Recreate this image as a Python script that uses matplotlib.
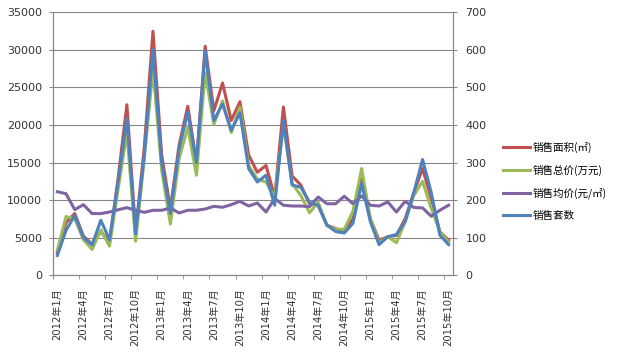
import matplotlib
matplotlib.use("Agg")
import matplotlib.pyplot as plt
from matplotlib.font_manager import FontProperties

plt.rcParams["font.family"] = ["DejaVu Sans", "Noto Sans CJK SC"]

# monthly data, 2012-01 .. 2015-10 (46 months)
area = [3000, 7000, 8200, 5200, 4100, 5800, 4400, 13000, 22700, 5700, 17000, 32500,
        16000, 8850, 17300, 22500, 15000, 30500, 21900, 25600, 20600, 23100, 16000, 13700,
        14600, 10400, 22400, 13200, 12000, 9500, 9300, 6650, 6200, 5750, 7500, 12800,
        7500, 4650, 5100, 5300, 7500, 11000, 14200, 10200, 5750, 4650]
total_price = [3300, 7800, 7500, 4700, 3400, 6000, 3850, 11500, 19000, 4500, 15500, 27500,
               14000, 6800, 15500, 19700, 13300, 27000, 20100, 23200, 19000, 22400, 14600, 12800,
               12400, 10400, 20000, 12200, 10600, 8300, 9700, 6600, 6100, 6100, 8500, 14200,
               7500, 4300, 5100, 4300, 7100, 10600, 12500, 8900, 5750, 4400]
avg_price = [11100, 10840, 8720, 9380, 8190, 8190, 8400, 8700, 8980, 8630, 8360, 8630,
             8630, 8940, 8270, 8630, 8630, 8800, 9160, 9030, 9380, 9820, 9200, 9600,
             8400, 10200, 9300, 9200, 9200, 9100, 10400, 9500, 9500, 10500, 9500, 10540,
             9300, 9200, 9740, 8400, 9830, 9000, 8950, 7840, 8640, 9300]
units = [52, 119, 159, 100, 80, 146, 94, 250, 418, 110, 320, 602,
         300, 164, 336, 434, 300, 598, 412, 456, 386, 432, 284, 248,
         266, 186, 412, 240, 234, 194, 186, 133, 116, 112, 138, 244,
         142, 81, 102, 108, 142, 220, 308, 220, 106, 81]

tick_labels = ["2012年1月", "2012年4月", "2012年7月", "2012年10月",
               "2013年1月", "2013年4月", "2013年7月", "2013年10月",
               "2014年1月", "2014年4月", "2014年7月", "2014年10月",
               "2015年1月", "2015年4月", "2015年7月", "2015年10月"]
series_names = ["销售面积(㎡)", "销售总价(万元)", "销售均价(元/㎡)", "销售套数"]

grid_c = "#868686"
text_c = "#333333"

fig = plt.figure(figsize=(6.3, 3.56), dpi=100)
ax = fig.add_axes([0.0841, 0.2275, 0.6349, 0.7374])
ax2 = ax.twinx()

x = list(range(len(area)))
l1, = ax.plot(x, area, color="#C0504D", lw=2.2, zorder=3)
l2, = ax.plot(x, total_price, color="#9BBB59", lw=2.2, zorder=3)
l3, = ax.plot(x, avg_price, color="#8064A2", lw=2.2, zorder=3)
l4, = ax2.plot(x, units, color="#4F81BD", lw=2.2)

ax.set_xlim(-0.5, len(area) - 0.5)
ax.set_ylim(0, 35000)
ax.set_yticks(range(0, 35001, 5000))
ax2.set_ylim(0, 700)
ax2.set_yticks(range(0, 701, 100))

ax.yaxis.grid(True, color=grid_c, lw=0.8)
ax.set_axisbelow(True)

# labels every 3 months, tick marks on the category boundaries
ax.set_xticks(range(0, len(area), 3))
ax.set_xticklabels(tick_labels, rotation=90, va="top", ha="center",
                   fontsize=7.2, color=text_c)
ax.set_xticks([i - 0.5 for i in range(0, len(area), 3)], minor=True)
ax.tick_params(axis="x", which="major", length=0, pad=9.5)
ax.tick_params(axis="x", which="minor", length=3, color=grid_c)
ax.tick_params(axis="y", length=3, color=grid_c, labelsize=8, labelcolor=text_c, pad=5)
ax2.tick_params(axis="y", length=3, color=grid_c, labelsize=8, labelcolor=text_c, pad=6)

for a in (ax, ax2):
    a.spines["top"].set_visible(False)
    for s in ("left", "right", "bottom"):
        a.spines[s].set_color(grid_c)
        a.spines[s].set_linewidth(0.8)

fig.legend([l1, l2, l3, l4], series_names, loc="center left",
           bbox_to_anchor=(0.798, 0.4905), frameon=False, borderpad=0,
           borderaxespad=0, handlelength=2.6, handletextpad=0.2,
           labelspacing=1.1,
           prop=FontProperties(family=["Noto Sans CJK SC", "DejaVu Sans"], size=7.6))

fig.savefig("out.png", dpi=100, facecolor="white")
